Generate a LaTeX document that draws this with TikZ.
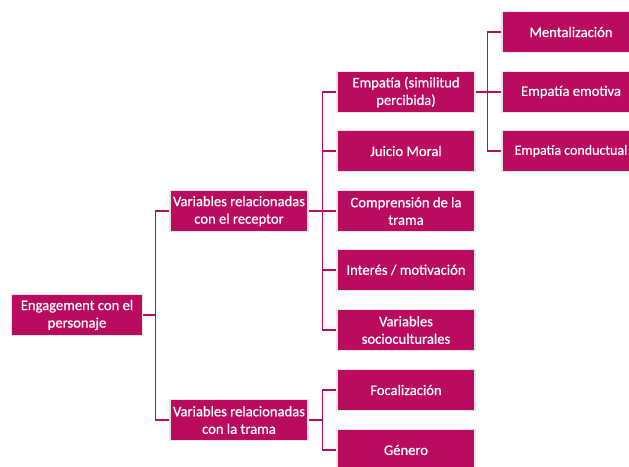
\documentclass[tikz,border=0pt]{standalone}
\usepackage{fontspec}
\setmainfont{Carlito}
\newfontfamily\cajafont[FakeBold=0.7]{Carlito}
\definecolor{fucsia}{HTML}{BA0B5E}
\begin{document}
\begin{tikzpicture}[x=1pt,y=-1pt,
caja/.style={fill=fucsia,draw=black!10,line width=1.2pt,text=white,align=center,
  font=\cajafont\fontsize{14.6}{17.5}\selectfont,minimum width=138pt,minimum height=41pt,inner sep=1pt},
rama/.style={draw=fucsia,line width=1.4pt}]
\clip(0,0)rectangle(629,466);
\node[caja,minimum width=131pt](eng)at(77,315){Engagement con el\\personaje};
\node[caja](rec)at(239,211){Variables relacionadas\\con el receptor};
\node[caja](tra)at(239,420){Variables relacionadas\\con la trama};
\node[caja](emp)at(406,92){Empatía (similitud\\percibida)};
\node[caja](jui)at(406,151){Juicio Moral};
\node[caja](com)at(406,211){Comprensión de la\\trama};
\node[caja](int)at(406,270){Interés / motivación};
\node[caja](soc)at(406,330){Variables\\socioculturales};
\node[caja](foc)at(406,390){Focalización};
\node[caja](gen)at(406,450){Género};
\node[caja](men)at(571,32){Mentalización};
\node[caja](emo)at(571,92){Empatía emotiva};
\node[caja,font=\cajafont\fontsize{14}{17}\selectfont](con)at(571,151){Empatía conductual};
\foreach \n in {rec,tra}
  \draw[rama](\n.west)--++(-14,0)|-(eng.east);
\foreach \n in {emp,jui,com,int,soc}
  \draw[rama](\n.west)--++(-14,0)|-(rec.east);
\foreach \n in {foc,gen}
  \draw[rama](\n.west)--++(-14,0)|-(tra.east);
\foreach \n in {men,emo,con}
  \draw[rama](\n.west)--++(-14,0)|-(emp.east);
\end{tikzpicture}
\end{document}
